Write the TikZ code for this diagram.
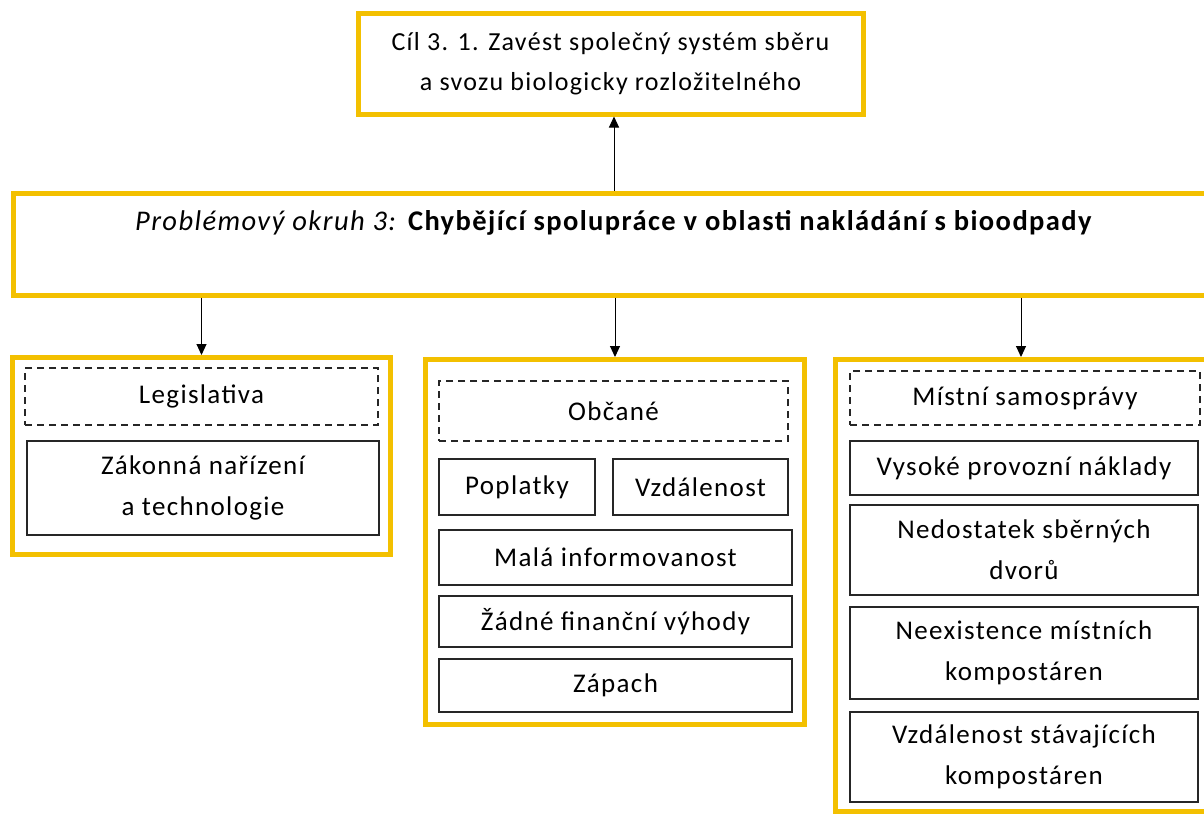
\documentclass[tikz,border=0pt]{standalone}
\usepackage{fontspec}
\setmainfont{Carlito}[LetterSpace=5]
\usetikzlibrary{arrows.meta}
\definecolor{gold}{RGB}{243,192,0}
\tikzset{
  panel/.style={draw=gold, line width=5pt, fill=white, inner sep=0pt},
  item/.style={draw=black!85, line width=1.2pt, inner sep=0pt, align=center,
    font=\fontsize{27}{41}\selectfont},
  dashitem/.style={item, dashed, dash pattern=on 7pt off 5pt},
  arr/.style={-{Triangle[length=11pt,width=10pt]}, line width=1pt, black},
  txt/.style={inner sep=0pt, align=center, font=\fontsize{26}{40}\selectfont},
  titletxt/.style={inner sep=0pt, align=center, font=\fontsize{28.5}{40}\selectfont}
}
\begin{document}
\begin{tikzpicture}[x=1pt,y=-1pt]
\useasboundingbox (0,0) rectangle (1204,816);
\clip (0,0) rectangle (1204,816);
% top goal box
\node[panel, minimum width=505pt, minimum height=100pt] (top) at (610.5,64) {};
\node[txt] (toptxt) at (610.5,64) {Cíl 3. 1. Zavést společný systém sběru\\a svozu biologicky rozložitelného};
% main problem box
\node[panel, minimum width=1202pt, minimum height=102pt] (main) at (614,244) {};
\node[titletxt] (maintxt) at (614,223) {\textit{Problémový okruh 3:} \textbf{Chybějící spolupráce v oblasti nakládání s bioodpady}};
% panels
\node[panel, minimum width=378pt, minimum height=197pt] (left) at (201.5,456) {};
\node[panel, minimum width=379pt, minimum height=365pt] (mid) at (615,542) {};
\node[panel, minimum width=380pt, minimum height=452pt] (right) at (1025,585.5) {};
% left items
\node[dashitem, minimum width=353pt, minimum height=57pt] (leg) at (201.5,396.5) {Legislativa};
\node[item, minimum width=352pt, minimum height=94pt] (zak) at (203,488) {Zákonná nařízení\\a technologie};
% middle items
\node[dashitem, minimum width=349pt, minimum height=60pt] (obc) at (613.5,411) {Občané};
\node[item, minimum width=156pt, minimum height=56pt] (popl) at (517,487) {Poplatky};
\node[item, minimum width=175pt, minimum height=56pt] (vzd) at (700.5,487) {Vzdálenost};
\node[item, minimum width=353pt, minimum height=55pt] (mala) at (615.5,557.5) {Malá informovanost};
\node[item, minimum width=353pt, minimum height=51pt] (zadne) at (615.5,621.5) {Žádné finanční výhody};
\node[item, minimum width=353pt, minimum height=53pt] (zapach) at (615.5,685.5) {Zápach};
% right items
\node[dashitem, minimum width=350pt, minimum height=54pt] (mist) at (1025,398) {Místní samosprávy};
\node[item, minimum width=348pt, minimum height=54pt] (vys) at (1024,468) {Vysoké provozní náklady};
\node[item, minimum width=348pt, minimum height=90pt] (ned) at (1024,550) {Nedostatek sběrných\\dvorů};
\node[item, minimum width=348pt, minimum height=92pt] (neex) at (1024,653) {Neexistence místních\\kompostáren};
\node[item, minimum width=348pt, minimum height=90pt] (vzst) at (1024,757) {Vzdálenost stávajících\\kompostáren};
% connectors
\draw[arr] (main.north) -- (main.north |- top.south);
\draw[arr] (main.south -| left.north) -- (left.north);
\draw[arr] (main.south -| mid.north) -- (mid.north);
\draw[arr] (main.south -| 1021,0) coordinate (rs) -- (rs |- right.north);
\end{tikzpicture}
\end{document}
